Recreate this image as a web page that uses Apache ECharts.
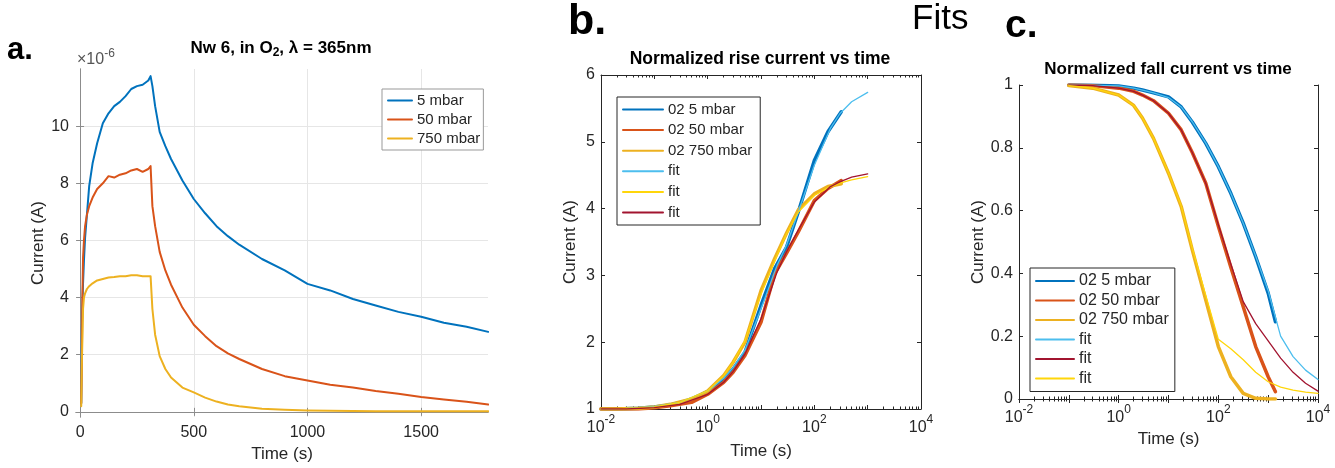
<!DOCTYPE html>
<html><head><meta charset="utf-8">
<script src="https://cdn.jsdelivr.net/npm/echarts@6/dist/echarts.min.js"></script>
<style>html,body{margin:0;padding:0;background:#fff}#c{width:1335px;height:468px}</style>
</head><body><div id="c"></div><script>
// ---------- Panel a: raw photocurrent (x 1e-6 A) ----------
const timeA = [5, 8, 10, 13, 17, 22, 30, 40, 55, 75, 100, 125, 150, 175, 200, 225, 250, 275, 300, 310, 318, 330, 350, 375, 400, 450, 500, 550, 600, 650, 700, 800, 900, 1000, 1100, 1200, 1300, 1400, 1500, 1600, 1700, 1795];
const a5mbar = [0.3, 3.0, 3.7, 4.5, 5.3, 6.1, 6.9, 7.9, 8.7, 9.4, 10.1, 10.45, 10.7, 10.85, 11.05, 11.3, 11.4, 11.45, 11.6, 11.75, 11.4, 10.7, 9.8, 9.3, 8.85, 8.1, 7.45, 6.95, 6.5, 6.15, 5.85, 5.35, 4.95, 4.48, 4.25, 3.95, 3.72, 3.5, 3.33, 3.12, 2.98, 2.8];
const a50mbar = [0.3, 2.0, 4.0, 5.4, 6.0, 6.5, 6.9, 7.2, 7.5, 7.8, 8.0, 8.25, 8.2, 8.3, 8.35, 8.45, 8.5, 8.4, 8.5, 8.6, 7.2, 6.5, 5.6, 4.95, 4.45, 3.65, 3.05, 2.65, 2.3, 2.05, 1.85, 1.5, 1.25, 1.1, 0.95, 0.85, 0.73, 0.63, 0.52, 0.43, 0.35, 0.26];
const a750mbar = [0.2, 1.8, 2.5, 3.6, 4.0, 4.15, 4.3, 4.4, 4.5, 4.6, 4.65, 4.7, 4.72, 4.75, 4.75, 4.78, 4.78, 4.75, 4.75, 4.75, 3.6, 2.7, 1.95, 1.5, 1.2, 0.85, 0.68, 0.5, 0.36, 0.26, 0.2, 0.11, 0.07, 0.045, 0.035, 0.03, 0.025, 0.02, 0.02, 0.02, 0.02, 0.02];
const xTicksA = [0, 500, 1000, 1500];
const yTicksA = [0, 2, 4, 6, 8, 10];

// ---------- Panel b: normalized rise ----------
const tRise = [0.01, 0.02, 0.05, 0.1, 0.2, 0.5, 1, 2, 3, 5, 10, 18, 30, 50, 100, 180, 320];
const rise5 = [1.0, 1.0, 1.01, 1.03, 1.06, 1.14, 1.26, 1.45, 1.6, 1.85, 2.55, 3.1, 3.42, 3.95, 4.72, 5.15, 5.45];
const rise50 = [1.0, 1.0, 1.0, 1.02, 1.05, 1.1, 1.22, 1.4, 1.55, 1.8, 2.3, 3.02, 3.33, 3.65, 4.12, 4.3, 4.42];
const rise750 = [1.0, 1.0, 1.01, 1.03, 1.07, 1.15, 1.27, 1.5, 1.7, 2.0, 2.77, 3.25, 3.63, 3.98, 4.22, 4.33, 4.37];
const tRiseFit = [0.01, 0.03, 0.1, 0.3, 1, 2, 3, 5, 10, 20, 30, 50, 100, 200, 300, 500, 1000];
const riseFit5 = [1.0, 1.01, 1.04, 1.1, 1.27, 1.46, 1.62, 1.88, 2.5, 3.15, 3.45, 3.95, 4.65, 5.2, 5.42, 5.6, 5.74];
const riseFit750 = [1.0, 1.01, 1.03, 1.1, 1.27, 1.5, 1.7, 2.02, 2.72, 3.3, 3.62, 3.95, 4.2, 4.33, 4.38, 4.43, 4.48];
const riseFit50 = [1.0, 1.0, 1.02, 1.07, 1.22, 1.4, 1.56, 1.82, 2.35, 3.05, 3.35, 3.68, 4.1, 4.33, 4.4, 4.47, 4.52];

// ---------- Panel c: normalized fall ----------
const tFall = [0.1, 0.3, 1, 2, 3, 5, 10, 18, 30, 56, 100, 178, 316, 562, 1000, 1400];
const fall5 = [1.0, 0.999, 0.997, 0.99, 0.984, 0.975, 0.962, 0.93, 0.882, 0.814, 0.74, 0.655, 0.56, 0.453, 0.337, 0.246];
const fall50 = [1.0, 0.998, 0.99, 0.98, 0.968, 0.95, 0.91, 0.857, 0.785, 0.687, 0.55, 0.42, 0.294, 0.167, 0.071, 0.023];
const fall750 = [0.998, 0.99, 0.968, 0.935, 0.895, 0.83, 0.719, 0.613, 0.475, 0.315, 0.167, 0.071, 0.018, 0.002, 0.0, 0.0];
const tFallFit = [0.1, 0.3, 1, 2, 3, 5, 10, 18, 30, 56, 100, 178, 316, 562, 1000, 1778, 3162, 5623, 10000];
const fallFit5 = [1.0, 0.999, 0.997, 0.99, 0.984, 0.975, 0.96, 0.93, 0.883, 0.815, 0.74, 0.655, 0.56, 0.455, 0.345, 0.2, 0.135, 0.092, 0.062];
const fallFit50 = [1.0, 0.998, 0.99, 0.98, 0.968, 0.95, 0.91, 0.857, 0.785, 0.687, 0.555, 0.43, 0.31, 0.24, 0.185, 0.13, 0.085, 0.05, 0.025];
const fallFit750 = [0.998, 0.99, 0.968, 0.935, 0.895, 0.83, 0.72, 0.615, 0.48, 0.33, 0.19, 0.16, 0.125, 0.085, 0.055, 0.038, 0.028, 0.022, 0.018];

const FONT = 'Liberation Sans, Arial, Helvetica, sans-serif';
const TXT = '#262626';
const C_BLUE = '#0072BD', C_RED = '#D95319', C_YEL = '#EDB120';
const C_FBLUE = '#4DBEEE', C_FRED = '#A2142F', C_FYEL = '#FFD60A';

function pairs(xs, ys) { return xs.map((x, i) => [x, ys[i]]); }

const chart = echarts.init(document.getElementById('c'), null, { renderer: 'canvas' });

const supRich = {
  b: { fontSize: 16, fontFamily: FONT, color: TXT, lineHeight: 22, verticalAlign: 'bottom' },
  s: { fontSize: 12, fontFamily: FONT, color: TXT, lineHeight: 12, verticalAlign: 'top' }
};
function logFmt(v) {
  const e = Math.round(Math.log10(v));
  return (e % 2 === 0) ? '{b|10}{s|' + e + '}' : '';
}

const axisLineDark = { show: true, lineStyle: { color: TXT, width: 1 } };
const tickIn = { show: true, inside: true, length: 4, lineStyle: { color: TXT } };
const minorIn = { show: true, splitNumber: 9, length: 2.5, lineStyle: { color: TXT } };

const nameStyle = { fontSize: 17, fontFamily: FONT, color: TXT };

// ---- axes ----
const xAxes = [
  { type: 'value', gridIndex: 0, min: -18, max: 1794, position: 'bottom',
    axisLine: { show: true, lineStyle: { color: '#8c8c8c' } },
    axisTick: { show: true, inside: true, length: 4, customValues: xTicksA, lineStyle: { color: '#8c8c8c' } },
    axisLabel: { customValues: xTicksA, margin: 8, fontSize: 16, fontFamily: FONT, color: TXT, formatter: v => String(v) },
    splitLine: { show: true, lineStyle: { color: '#e6e6e6' } },
    name: 'Time (s)', nameLocation: 'middle', nameGap: 29, nameTextStyle: nameStyle },
  { type: 'value', gridIndex: 0, min: -18, max: 1794, position: 'top',
    axisLine: { show: true, lineStyle: { color: '#8c8c8c' } },
    axisTick: { show: true, inside: true, length: 4, customValues: xTicksA, lineStyle: { color: '#8c8c8c' } },
    axisLabel: { show: false }, splitLine: { show: false } },
  { type: 'log', logBase: 10, gridIndex: 1, min: 0.01, max: 10000, position: 'bottom',
    axisLine: axisLineDark, axisTick: tickIn, minorTick: minorIn,
    axisLabel: { formatter: logFmt, rich: supRich, margin: 5, showMinLabel: true, showMaxLabel: true },
    splitLine: { show: false }, minorSplitLine: { show: false },
    name: 'Time (s)', nameLocation: 'middle', nameGap: 34, nameTextStyle: nameStyle },
  { type: 'log', logBase: 10, gridIndex: 1, min: 0.01, max: 10000, position: 'top',
    axisLine: axisLineDark, axisTick: tickIn, minorTick: minorIn,
    axisLabel: { show: false }, splitLine: { show: false } },
  { type: 'log', logBase: 10, gridIndex: 2, min: 0.01, max: 10000, position: 'bottom',
    axisLine: axisLineDark, axisTick: tickIn, minorTick: minorIn,
    axisLabel: { formatter: logFmt, rich: supRich, margin: 5, showMinLabel: true, showMaxLabel: true },
    splitLine: { show: false },
    name: 'Time (s)', nameLocation: 'middle', nameGap: 30, nameTextStyle: nameStyle },
  { type: 'log', logBase: 10, gridIndex: 2, min: 0.01, max: 10000, position: 'top',
    axisLine: axisLineDark, axisTick: tickIn, minorTick: minorIn,
    axisLabel: { show: false }, splitLine: { show: false } }
];

const yAxes = [
  { type: 'value', gridIndex: 0, min: -0.18, max: 12, position: 'left',
    axisLine: { show: true, lineStyle: { color: '#8c8c8c' } },
    axisTick: { show: true, inside: true, length: 4, customValues: yTicksA, lineStyle: { color: '#8c8c8c' } },
    axisLabel: { customValues: yTicksA, margin: 7, fontSize: 16, fontFamily: FONT, color: TXT },
    splitLine: { show: true, lineStyle: { color: '#e6e6e6' } },
    name: 'Current (A)', nameLocation: 'middle', nameGap: 29, nameTextStyle: nameStyle },
  { type: 'value', gridIndex: 0, min: -0.18, max: 12, position: 'right',
    axisLine: { show: true, lineStyle: { color: '#8c8c8c' } },
    axisTick: { show: true, inside: true, length: 4, customValues: yTicksA, lineStyle: { color: '#8c8c8c' } },
    axisLabel: { show: false }, splitLine: { show: false } },
  { type: 'value', gridIndex: 1, min: 1, max: 6, interval: 1, position: 'left',
    axisLine: axisLineDark, axisTick: tickIn,
    axisLabel: { margin: 6, fontSize: 16, fontFamily: FONT, color: TXT },
    splitLine: { show: false },
    name: 'Current (A)', nameLocation: 'middle', nameGap: 22, nameTextStyle: nameStyle },
  { type: 'value', gridIndex: 1, min: 1, max: 6, interval: 1, position: 'right',
    axisLine: axisLineDark, axisTick: tickIn, axisLabel: { show: false }, splitLine: { show: false } },
  { type: 'value', gridIndex: 2, min: 0, max: 1, interval: 0.2, position: 'left',
    axisLine: axisLineDark, axisTick: tickIn,
    axisLabel: { margin: 6, fontSize: 16, fontFamily: FONT, color: TXT,
      formatter: v => (v === 0 || v === 1) ? String(v) : v.toFixed(1) },
    splitLine: { show: false },
    name: 'Current (A)', nameLocation: 'middle', nameGap: 32, nameTextStyle: nameStyle },
  { type: 'value', gridIndex: 2, min: 0, max: 1, interval: 0.2, position: 'right',
    axisLine: axisLineDark, axisTick: tickIn, axisLabel: { show: false }, splitLine: { show: false } }
];

function line(name, xi, yi, data, color, width, z) {
  return { type: 'line', name: name, xAxisIndex: xi, yAxisIndex: yi, data: data,
    symbol: 'none', showSymbol: false, smooth: false,
    animation: false, z: z || 2,
    itemStyle: { color: color }, lineStyle: { color: color, width: width, join: 'round', cap: 'round' } };
}

const series = [
  line('5 mbar', 0, 0, pairs(timeA, a5mbar), C_BLUE, 2),
  line('50 mbar', 0, 0, pairs(timeA, a50mbar), C_RED, 2),
  line('750 mbar', 0, 0, pairs(timeA, a750mbar), C_YEL, 2),

  line('02 5 mbar', 2, 2, pairs(tRise, rise5), C_BLUE, 3.5),
  line('02 50 mbar', 2, 2, pairs(tRise, rise50), C_RED, 3.5),
  line('02 750 mbar', 2, 2, pairs(tRise, rise750), C_YEL, 3.5),
  line('fit', 2, 2, pairs(tRiseFit, riseFit5), C_FBLUE, 1.3, 3),
  line('fit ', 2, 2, pairs(tRiseFit, riseFit750), C_FYEL, 1.3, 3),
  line('fit  ', 2, 2, pairs(tRiseFit, riseFit50), C_FRED, 1.3, 3),

  line('02 5 mbar', 4, 4, pairs(tFall, fall5), C_BLUE, 3.5),
  line('02 50 mbar', 4, 4, pairs(tFall, fall50), C_RED, 3.5),
  line('02 750 mbar', 4, 4, pairs(tFall, fall750), C_YEL, 3.5),
  line('fit   ', 4, 4, pairs(tFallFit, fallFit5), C_FBLUE, 1.3, 3),
  line('fit    ', 4, 4, pairs(tFallFit, fallFit50), C_FRED, 1.3, 3),
  line('fit     ', 4, 4, pairs(tFallFit, fallFit750), C_FYEL, 1.3, 3)
];

const legTxt = (fs) => ({ fontSize: fs, fontFamily: FONT, color: TXT });
const noDot = { opacity: 0 };

const option = {
  backgroundColor: '#fff',
  animation: false,
  grid: [
    { left: 76, top: 69, width: 412, height: 348, show: false },
    { left: 601, top: 75, width: 320, height: 334, show: false },
    { left: 1019, top: 85, width: 299, height: 314, show: false }
  ],
  xAxis: xAxes,
  yAxis: yAxes,
  legend: [
    { left: 382, top: 89, orient: 'vertical', data: ['5 mbar', '50 mbar', '750 mbar'],
      itemWidth: 24, itemHeight: 12, itemGap: 4, padding: [4, 3, 4, 5],
      borderColor: '#999', borderWidth: 1, backgroundColor: '#fff', itemStyle: noDot,
      textStyle: legTxt(15), selectedMode: false },
    { left: 617, top: 97, orient: 'vertical',
      data: ['02 5 mbar', '02 50 mbar', '02 750 mbar', 'fit', 'fit ', 'fit  '],
      itemWidth: 40, itemHeight: 12, itemGap: 5.6, padding: [5, 8, 5, 5],
      borderColor: TXT, borderWidth: 1, backgroundColor: '#fff', itemStyle: noDot,
      textStyle: legTxt(15), selectedMode: false },
    { left: 1030, top: 268, orient: 'vertical',
      data: ['02 5 mbar', '02 50 mbar', '02 750 mbar', 'fit   ', 'fit    ', 'fit     '],
      itemWidth: 38, itemHeight: 12, itemGap: 3.5, padding: [5, 6, 5, 5],
      borderColor: TXT, borderWidth: 1, backgroundColor: '#fff', itemStyle: noDot,
      textStyle: legTxt(16), selectedMode: false }
  ],
  graphic: [
    { type: 'text', x: 7, y: 50, style: { text: 'a.', font: 'bold 31px ' + FONT, fill: '#000', textVerticalAlign: 'middle' } },
    { type: 'text', x: 568, y: 22, style: { text: 'b.', font: 'bold 43px ' + FONT, fill: '#000', textVerticalAlign: 'middle' } },
    { type: 'text', x: 912, y: 19, style: { text: 'Fits', font: '35px ' + FONT, fill: '#000', textVerticalAlign: 'middle' } },
    { type: 'text', x: 1005, y: 26, style: { text: 'c.', font: 'bold 39px ' + FONT, fill: '#000', textVerticalAlign: 'middle' } },
    { type: 'text', x: 281, y: 48, style: {
        text: '{t|Nw 6, in O}{sub|2}{t|, λ = 365nm}', textAlign: 'center', textVerticalAlign: 'middle',
        rich: {
          t: { font: 'bold 17px ' + FONT, fill: '#000', lineHeight: 22, verticalAlign: 'middle' },
          sub: { font: 'bold 12px ' + FONT, fill: '#000', lineHeight: 12, verticalAlign: 'bottom' }
        } } },
    { type: 'text', x: 760, y: 59, style: { text: 'Normalized rise current vs time', font: 'bold 17.5px ' + FONT, fill: '#000', textAlign: 'center', textVerticalAlign: 'middle' } },
    { type: 'text', x: 1168, y: 69, style: { text: 'Normalized fall current vs time', font: 'bold 17px ' + FONT, fill: '#000', textAlign: 'center', textVerticalAlign: 'middle' } },
    { type: 'text', x: 77, y: 58, style: {
        text: '{m|×10}{s|-6}', textVerticalAlign: 'middle',
        rich: {
          m: { font: '16px ' + FONT, fill: '#555', lineHeight: 20, verticalAlign: 'bottom' },
          s: { font: '12px ' + FONT, fill: '#555', lineHeight: 12, verticalAlign: 'top' }
        } } }
  ],
  series: series
};
chart.setOption(option);
</script></body></html>
